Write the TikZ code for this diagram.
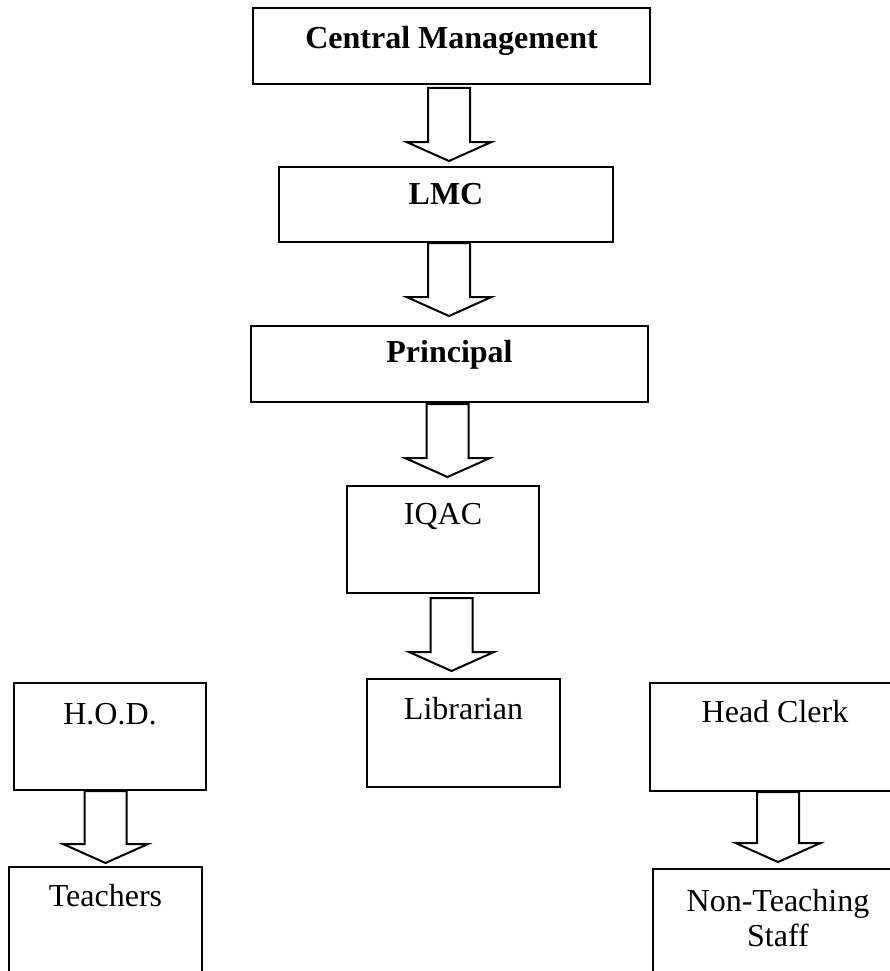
\documentclass[tikz,border=0pt]{standalone}
\usepackage{fontspec}
\setmainfont{Liberation Serif}
\usetikzlibrary{calc, positioning}

% shaft from (#1.south) moved by #3, tip #4 above (#2.north)
\newcommand{\flowarrow}[4]{%
  \draw[blockarrow] let \p1=($(#1.south)+(#3)$), \p2=(#2.north) in
    (\x1-21pt,\y1) -- (\x1-21pt,\y2+#4pt+19pt) -- (\x1-42.5pt,\y2+#4pt+19pt)
    -- (\x1,\y2+#4pt) -- (\x1+42.5pt,\y2+#4pt+19pt) -- (\x1+21pt,\y2+#4pt+19pt)
    -- (\x1+21pt,\y1) -- cycle;}

\begin{document}
\begin{tikzpicture}[x=1pt, y=-1pt,
    box/.style={rectangle, draw, line width=2pt, inner sep=0pt},
    lbl/.style={anchor=base, inner sep=0pt, align=center, font=\fontsize{32}{35}\selectfont},
    blockarrow/.style={draw, line width=2pt, fill=white, line join=miter}]

    \useasboundingbox (0,0) rectangle (890,971);
    \clip (0,0) rectangle (890,971);

    % top line of command
    \node[box, minimum width=397pt, minimum height=76pt] (cm) at (451.5,46) {};
    \node[box, minimum width=334pt, minimum height=75pt] (lmc) at (446,204.5) {};
    \node[box, minimum width=397pt, minimum height=76pt] (prin) at (449.5,364) {};
    \node[box, minimum width=192pt, minimum height=107pt] (iqac) at (443,539.5) {};

    % bottom row
    \node[box, minimum width=192pt, minimum height=107pt] (hod) at (110,736.5) {};
    \node[box, minimum width=193pt, minimum height=108pt] (lib) at (463.5,733) {};
    \node[box, minimum width=254pt, minimum height=108pt] (hc) at (777,737) {};
    \node[box, minimum width=193pt, minimum height=108pt] (teach) at (105.5,921) {};
    \node[box, minimum width=250pt, minimum height=108pt] (nts) at (778,923) {};

    \node[lbl] (cmt) at ($(cm.north)+(0,42)$) {\textbf{Central Management}};
    \node[lbl] (lmct) at ($(lmc.north)+(0,38)$) {\textbf{LMC}};
    \node[lbl] (print) at ($(prin.north)+(0,37)$) {\textbf{Principal}};
    \node[lbl] (iqact) at ($(iqac.north)+(0,39)$) {IQAC};
    \node[lbl] (libt) at ($(lib.north)+(0,41)$) {Librarian};
    \node[lbl] (hodt) at ($(hod.north)+(0,42)$) {H.O.D.};
    \node[lbl] (hct) at ($(hc.north)+(-2,40)$) {Head Clerk};
    \node[lbl] (teacht) at ($(teach.north)+(0,40)$) {Teachers};
    \node[lbl] (ntst) at ($(nts.north)+(0,78)$) {Non-Teaching\\Staff};

    \flowarrow{cm}{lmc}{-2.5,3}{5}
    \flowarrow{lmc}{prin}{3,0}{9}
    \flowarrow{prin}{iqac}{-2,1}{8}
    \flowarrow{iqac}{lib}{8.5,4}{7}
    \flowarrow{hod}{teach}{-4.5,0}{3}
    \flowarrow{hc}{nts}{1,0}{6}
\end{tikzpicture}
\end{document}
